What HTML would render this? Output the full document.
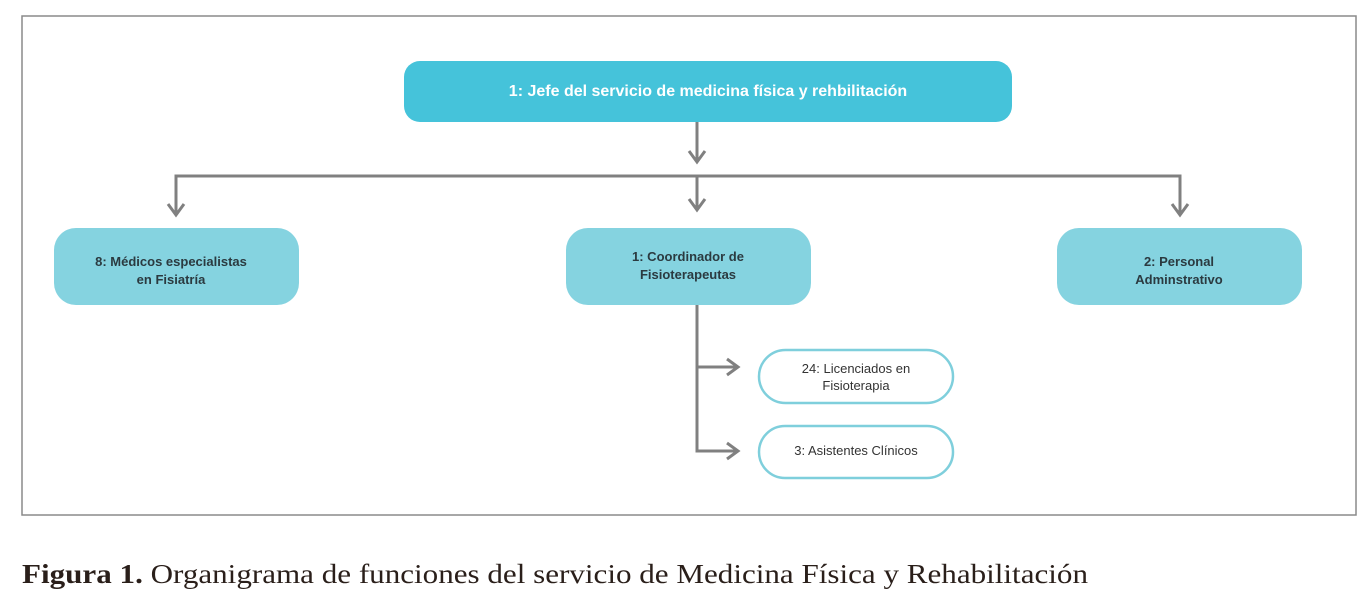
<!DOCTYPE html>
<html><head><meta charset="utf-8"><style>
html,body{margin:0;padding:0;background:#fff;}
svg{display:block}
.b{font-family:"Liberation Sans",sans-serif;font-weight:bold;}
.r{font-family:"Liberation Sans",sans-serif;}
</style></head><body>
<svg width="1366" height="604" viewBox="0 0 1366 604" xmlns="http://www.w3.org/2000/svg">
<rect x="22" y="16" width="1334" height="499" fill="#fff" stroke="#8a8a8a" stroke-width="1.5"/>
<g stroke="#808080" stroke-width="3" fill="none">
<line x1="697" y1="122" x2="697" y2="162"/>
<polyline points="689,151 697,162 705,151"/>
<polyline points="176,215 176,176 1180,176 1180,215"/>
<line x1="697" y1="176" x2="697" y2="210"/>
<polyline points="168,204 176,215 184,204"/>
<polyline points="689,199 697,210 705,199"/>
<polyline points="1172,204 1180,215 1188,204"/>
<polyline points="697,305 697,451 737,451"/>
<line x1="697" y1="367" x2="737" y2="367"/>
<polyline points="727,359 738,367 727,375"/>
<polyline points="727,443 738,451 727,459"/>
</g>
<rect x="404" y="61" width="608" height="61" rx="16" fill="#45c3da"/>
<text x="708" y="96" text-anchor="middle" class="b" font-size="16" fill="#fff">1: Jefe del servicio de medicina física y rehbilitación</text>
<g fill="#85d3e0">
<rect x="54" y="228" width="245" height="77" rx="22"/>
<rect x="566" y="228" width="245" height="77" rx="22"/>
<rect x="1057" y="228" width="245" height="77" rx="22"/>
</g>
<g class="b" font-size="13" fill="#2b3a40" text-anchor="middle">
<text x="171" y="266">8: Médicos especialistas</text>
<text x="171" y="284">en Fisiatría</text>
<text x="688" y="261">1: Coordinador de</text>
<text x="688" y="279">Fisioterapeutas</text>
<text x="1179" y="266">2: Personal</text>
<text x="1179" y="284">Adminstrativo</text>
</g>
<g fill="#fff" stroke="#7fcfdc" stroke-width="2.5">
<rect x="759" y="350" width="194" height="53" rx="26.5"/>
<rect x="759" y="426" width="194" height="52" rx="26"/>
</g>
<g class="r" font-size="13" fill="#333" text-anchor="middle">
<text x="856" y="373">24: Licenciados en</text>
<text x="856" y="390">Fisioterapia</text>
<text x="856" y="455">3: Asistentes Clínicos</text>
</g>
<text x="22" y="583" font-family="Liberation Serif,serif" font-size="27" fill="#2a1f1a" textLength="1066" lengthAdjust="spacingAndGlyphs"><tspan font-weight="bold">Figura 1.</tspan> Organigrama de funciones del servicio de Medicina Física y Rehabilitación</text>
</svg>
</body></html>
